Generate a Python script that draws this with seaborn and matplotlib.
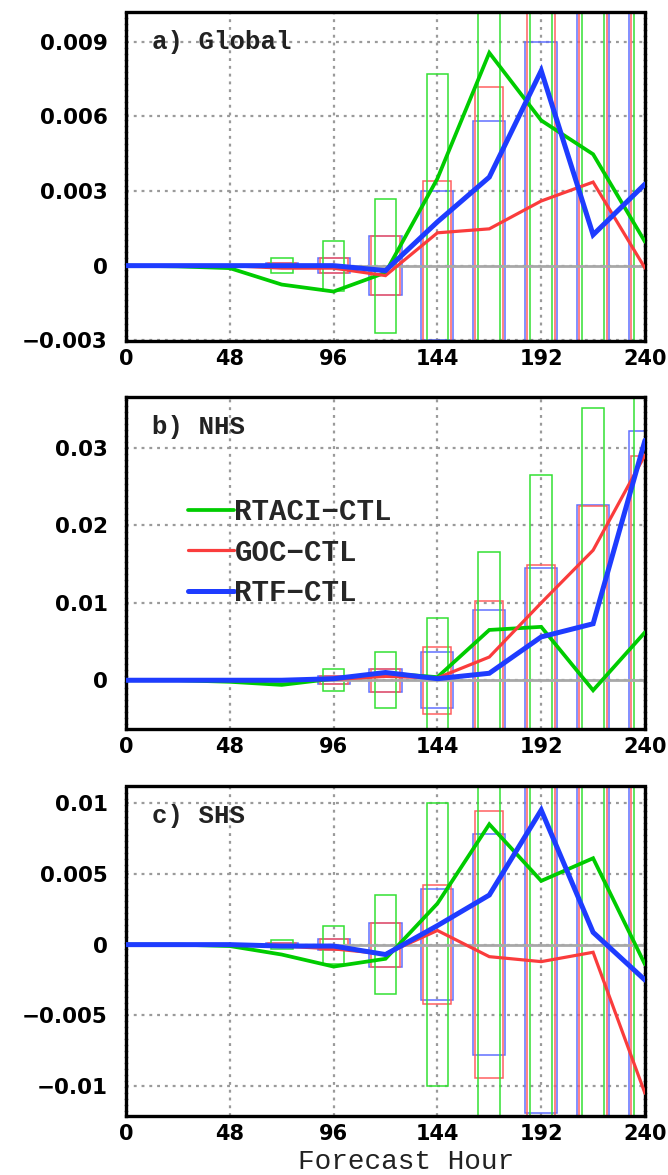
import numpy as np
import pandas as pd
import matplotlib
matplotlib.use("Agg")
import matplotlib.pyplot as plt
import seaborn as sns

# ---------------- data ----------------
hours = [0, 24, 48, 72, 96, 120, 144, 168, 192, 216, 240]
box_hours = [72, 96, 120, 144, 168, 192, 216, 240]
series = ["RTACI\u2212CTL", "GOC\u2212CTL", "RTF\u2212CTL"]

# a) Global
glob_rtaci = [0.0, -0.00003, -0.0001, -0.00076, -0.00104, -0.00028, 0.0035, 0.00856, 0.00584, 0.00448, 0.00096]
glob_goc = [0.0, 0.0, 0.0, -0.0001, -0.0001, -0.0004, 0.00132, 0.00148, 0.0026, 0.00336, -0.0001]
glob_rtf = [0.0, 0.0, 0.0, 0.0, 0.0, -0.0002, 0.00176, 0.00356, 0.00784, 0.00124, 0.00328]
glob_ci_rtaci = [0.0003, 0.001, 0.0027, 0.0077, 0.011, 0.013, 0.016, 0.02]
glob_ci_goc = [0.0001, 0.0003, 0.0012, 0.0034, 0.0072, 0.0105, 0.013, 0.016]
glob_ci_rtf = [0.0001, 0.0003, 0.0012, 0.0030, 0.0058, 0.0090, 0.012, 0.015]

# b) NHS
nhs_rtaci = [0.0, 0.0, -0.0002, -0.0006, 0.0002, 0.0009, 0.0004, 0.0065, 0.0069, -0.0013, 0.0062]
nhs_goc = [0.0, 0.0, 0.0, 0.0, 0.0001, 0.0005, 0.0003, 0.003, 0.01, 0.0168, 0.0291]
nhs_rtf = [0.0, 0.0, 0.0, 0.0, 0.0002, 0.001, 0.0002, 0.0009, 0.0056, 0.0073, 0.031]
nhs_ci_rtaci = [0.0002, 0.0014, 0.0036, 0.0081, 0.0166, 0.0265, 0.0352, 0.040]
nhs_ci_goc = [0.0001, 0.0005, 0.0015, 0.0043, 0.0102, 0.0149, 0.0225, 0.029]
nhs_ci_rtf = [0.0001, 0.0005, 0.0015, 0.0036, 0.0091, 0.0145, 0.0226, 0.0322]

# c) SHS
shs_rtaci = [0.0, 0.0, -0.0001, -0.0007, -0.00155, -0.001, 0.0029, 0.0085, 0.0045, 0.0061, -0.0014]
shs_goc = [0.0, 0.0, 0.0, -0.0001, -0.0003, -0.00066, 0.001, -0.00085, -0.0012, -0.00054, -0.0105]
shs_rtf = [0.0, 0.0, 0.0, -0.0001, -0.0001, -0.0007, 0.00134, 0.0035, 0.0095, 0.00087, -0.0025]
shs_ci_rtaci = [0.0003, 0.00134, 0.0035, 0.01, 0.013, 0.016, 0.02, 0.025]
shs_ci_goc = [0.0001, 0.0004, 0.00155, 0.0042, 0.0094, 0.0125, 0.016, 0.02]
shs_ci_rtf = [0.0001, 0.0004, 0.00155, 0.0039, 0.0078, 0.0119, 0.015, 0.018]

x_ticks = [0, 48, 96, 144, 192, 240]
x_tick_labels = ["0", "48", "96", "144", "192", "240"]
a_yticks = [-0.003, 0, 0.003, 0.006, 0.009]
a_ylabels = ["\u22120.003", "0", "0.003", "0.006", "0.009"]
b_yticks = [0, 0.01, 0.02, 0.03]
b_ylabels = ["0", "0.01", "0.02", "0.03"]
c_yticks = [-0.01, -0.005, 0, 0.005, 0.01]
c_ylabels = ["\u22120.01", "\u22120.005", "0", "0.005", "0.01"]
panel_titles = ["a) Global", "b) NHS", "c) SHS"]
x_label = "Forecast Hour"

# ---------------- style ----------------
sns.set_theme(style="white")
plt.rcParams["font.family"] = ["DejaVu Sans"]

line_colors = {"RTACI\u2212CTL": "#00cc00", "GOC\u2212CTL": "#fa3c3c", "RTF\u2212CTL": "#1e3cff"}
box_colors = {"RTACI\u2212CTL": "#33e033", "GOC\u2212CTL": "#ff6060", "RTF\u2212CTL": "#6070ff"}
line_widths = {"RTACI\u2212CTL": 2.7, "GOC\u2212CTL": 2.3, "RTF\u2212CTL": 3.6}
box_halfwidth = {"RTACI\u2212CTL": 5.0, "GOC\u2212CTL": 6.5, "RTF\u2212CTL": 7.4}

panels = [
    dict(lines=[glob_rtaci, glob_goc, glob_rtf], cis=[glob_ci_rtaci, glob_ci_goc, glob_ci_rtf],
         ylim=(-0.00303, 0.0102), yticks=a_yticks, ylabels=a_ylabels),
    dict(lines=[nhs_rtaci, nhs_goc, nhs_rtf], cis=[nhs_ci_rtaci, nhs_ci_goc, nhs_ci_rtf],
         ylim=(-0.0063, 0.0366), yticks=b_yticks, ylabels=b_ylabels),
    dict(lines=[shs_rtaci, shs_goc, shs_rtf], cis=[shs_ci_rtaci, shs_ci_goc, shs_ci_rtf],
         ylim=(-0.0121, 0.0112), yticks=c_yticks, ylabels=c_ylabels),
]

W, H = 668, 1175
fig = plt.figure(figsize=(W / 100, H / 100), dpi=100)

# axes positions in pixels (left, top, right, bottom)
pix = [(126, 12, 645, 341), (126, 397, 645, 729), (126, 786, 645, 1116)]

mono = ["Liberation Mono", "DejaVu Sans Mono"]

for i, (p, (l, t, r, b)) in enumerate(zip(panels, pix)):
    ax = fig.add_axes([l / W, 1 - b / H, (r - l) / W, (b - t) / H])
    ax.set_facecolor("white")

    # boxes (confidence ranges about zero)
    for name, ci in zip(["RTF\u2212CTL", "GOC\u2212CTL", "RTACI\u2212CTL"], p["cis"][::-1]):
        ci = np.array(ci)
        ax.bar(box_hours, 2 * ci, bottom=-ci, width=2 * box_halfwidth[name],
               fill=False, edgecolor=box_colors[name], linewidth=1.1, zorder=2)

    # grid & zero line
    ax.set_xticks(x_ticks)
    ax.set_xticklabels(x_tick_labels)
    ax.set_yticks(p["yticks"])
    ax.set_yticklabels(p["ylabels"])
    ax.grid(True, color="#9a9a9a", linestyle=(0, (1.3, 2.2)), linewidth=1.6, zorder=1)
    ax.axhline(0, color="#a8a8a8", linewidth=2.0, zorder=2.5)

    # lines
    for name, vals in zip(series, p["lines"]):
        df = pd.DataFrame({"hour": hours, "value": vals})
        sns.lineplot(data=df, x="hour", y="value", ax=ax, color=line_colors[name],
                     linewidth=line_widths[name], label=name, zorder=3,
                     solid_joinstyle="miter")

    ax.set_xlim(0, 240)
    ax.set_ylim(*p["ylim"])
    ax.set_xlabel("")
    ax.set_ylabel("")

    ax.tick_params(axis="both", which="both", direction="out", length=4, width=1.5,
                   color="black", labelsize=15.5, top=False, right=False)
    ax.tick_params(axis="y", pad=9)
    ax.tick_params(axis="x", pad=2, labelsize=15)
    for lab in ax.get_xticklabels() + ax.get_yticklabels():
        lab.set_fontweight("bold")
        lab.set_color("black")

    for side in ["top", "bottom"]:
        ax.spines[side].set_color("black")
        ax.spines[side].set_linewidth(2.4)
    for side in ["left", "right"]:
        ax.spines[side].set_color("black")
        ax.spines[side].set_linewidth(2.4)
        ax.spines[side].set_linestyle((0, (1.2, 0.6)))

    ax.text(0.05, 0.91, panel_titles[i], transform=ax.transAxes, ha="left", va="center",
            fontsize=18.5, fontweight="bold", family=mono, color="#222222", zorder=5)

    if i == 1:
        handles, labels = ax.get_legend_handles_labels()
        ax.legend(handles, labels, loc="upper left", bbox_to_anchor=(0.119, 0.695),
                  frameon=False, handlelength=1.6, handletextpad=0.0, borderpad=0.0,
                  borderaxespad=0.0, labelspacing=0.42,
                  prop={"family": mono, "size": 21, "weight": "bold"})
    else:
        leg = ax.get_legend()
        if leg is not None:
            leg.remove()

fig.text(406 / W, 0.0, x_label, ha="center", va="bottom", fontsize=20,
         family=mono, color="#222222")

fig.savefig("out.png", dpi=100)
